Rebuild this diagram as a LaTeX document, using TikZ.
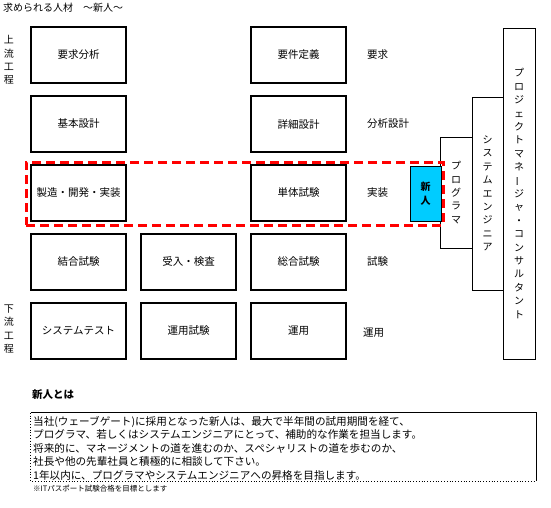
\documentclass[tikz,border=0pt]{standalone}
\usepackage{fontspec}
\usepackage{graphicx}
\setmainfont{Noto Sans CJK JP}
\definecolor{newblue}{RGB}{0,204,255}
\newcommand\vbar{\rotatebox[origin=c]{90}{ー}}
\begin{document}
\begin{tikzpicture}[x=1pt,y=-1pt,
  stage/.style={draw, line width=1.8pt, minimum width=95pt, minimum height=56pt, inner sep=0pt, font=\fontsize{10.5}{12}\selectfont},
  role/.style={draw, line width=0.8pt, inner sep=0pt, align=center, font=\fontsize{10}{13.4}\selectfont},
  vlab/.style={align=center, inner sep=0pt, font=\fontsize{10}{13.4}\selectfont},
  lab/.style={anchor=west, inner sep=0pt, font=\fontsize{10.5}{12}\selectfont}]
\useasboundingbox (0,0) rectangle (551,508);

% title
\node[anchor=west, inner sep=0pt, font=\fontsize{10}{12}\selectfont] (title) at (3,8) {求められる人材　～新人～};

% side labels
\node[vlab] (up) at (9,60) {上\\流\\工\\程};
\node[vlab] (down) at (9,329) {下\\流\\工\\程};

% stage boxes
\node[stage] (a1) at (78.5,55) {要求分析};
\node[stage] (a2) at (78.5,124) {基本設計};
\node[stage] (a3) at (78.5,193) {製造・開発・実装};
\node[stage] (a4) at (78.5,262) {結合試験};
\node[stage] (a5) at (78.5,331) {システムテスト};
\node[stage] (b4) at (188.5,262) {受入・検査};
\node[stage] (b5) at (188.5,331) {運用試験};
\node[stage] (c1) at (298.5,55) {要件定義};
\node[stage] (c2) at (298.5,124) {詳細設計};
\node[stage] (c3) at (298.5,193) {単体試験};
\node[stage] (c4) at (298.5,262) {総合試験};
\node[stage] (c5) at (298.5,331) {運用};

% right labels
\node[lab] (l1) at (367,55) {要求};
\node[lab] (l2) at (367,124) {分析設計};
\node[lab] (l3) at (367,193) {実装};
\node[lab] (l4) at (367,262) {試験};
\node[lab] (l5) at (363,333) {運用};

% role columns
\node[role, minimum width=32pt, minimum height=331pt] (pm) at (519,193.5)
  {プ\\ロ\\ジ\\ェ\\ク\\ト\\マ\\ネ\\\vbar\\ジ\\ャ\\・\\コ\\ン\\サ\\ル\\タ\\ン\\ト};
\node[role, minimum width=31pt, minimum height=193pt] (se) at (487.5,193.5)
  {シ\\ス\\テ\\ム\\エ\\ン\\ジ\\ニ\\ア};
\node[role, minimum width=32pt, minimum height=111pt] (pg) at (456,192.5)
  {プ\\ロ\\グ\\ラ\\マ};

% newcomer
\node[draw, line width=0.8pt, fill=newblue, minimum width=31pt, minimum height=55pt, inner sep=0pt,
  align=center, font=\fontsize{10}{14}\selectfont\bfseries] (new) at (425.5,193.5) {新\\人};

% highlight
\node[draw=red, line width=3pt, dash pattern=on 9pt off 5pt, minimum width=417pt, minimum height=63pt, inner sep=0pt] (focus) at (234.5,193.5) {};

% description
\node[anchor=west, inner sep=0pt, font=\fontsize{10.5}{12}\selectfont\bfseries] (head) at (32,395) {新人とは};
\node[minimum width=505pt, minimum height=68pt, inner sep=0pt] (desc) at (283.5,447) {};
\draw[line width=0.8pt] (desc.north west) -- (desc.north east) -- (desc.south east);
\draw[line width=0.8pt, dotted] (desc.north west) -- (desc.south west) -- (desc.south east);
\node[anchor=west, align=left, inner sep=0pt, font=\fontsize{10.6}{13.5}\selectfont] (desctext) at (33,448)
{当社(ウェーブゲート)に採用となった新人は、最大で半年間の試用期間を経て、\\
プログラマ、若しくはシステムエンジニアにとって、補助的な作業を担当します。\\
将来的に、マネージメントの道を進むのか、スペシャリストの道を歩むのか、\\
社長や他の先輩社員と積極的に相談して下さい。\\
1年以内に、プログラマやシステムエンジニアへの昇格を目指します。};
\node[anchor=west, inner sep=0pt, font=\fontsize{7.5}{9}\selectfont] (note) at (33,489) {※ITパスポート試験合格を目標とします};
\end{tikzpicture}
\end{document}
